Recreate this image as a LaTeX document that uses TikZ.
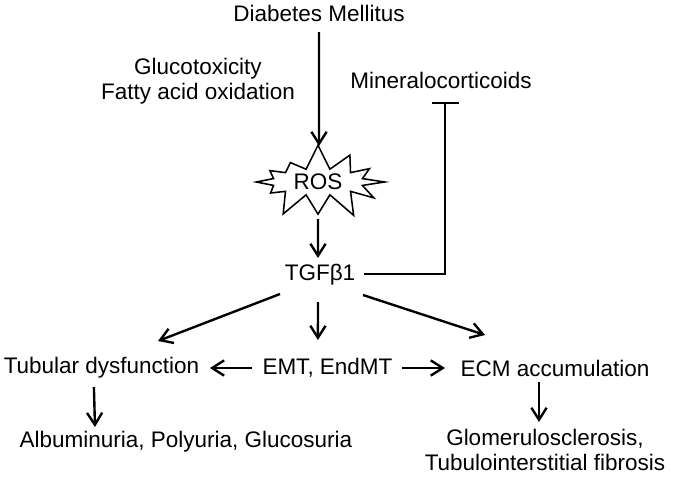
\documentclass[tikz,border=0pt]{standalone}
\usepackage{fontspec}
\setmainfont{Liberation Sans}
\usepackage{tikz}
\usetikzlibrary{shapes.symbols,arrows.meta}

\begin{document}
\begin{tikzpicture}[font=\fontsize{16}{17.8}\selectfont,
  arr/.style={-{Straight Barb[length=3mm,width=3.8mm]},line width=1.7pt},
  inh/.style={-{Bar[width=6.75mm]},line width=1.1pt}]

\useasboundingbox (0,0) rectangle (16.85,-11.975);

\node (dm) at (7.975,-0.325) {Diabetes Mellitus};
\node [align=center] (gluco) at (4.95,-2.0375) {Glucotoxicity\\Fatty acid oxidation};
\node (min) at (11.025,-2.0) {Mineralocorticoids};
\node [starburst,draw,line width=1.1pt,starburst points=12,starburst point height=0.65cm,random starburst=7,minimum width=3.6cm,minimum height=1.85cm,inner sep=1pt] (ros) at (7.95,-4.55) {ROS};
\node (tgf) at (8.0,-6.875) {TGFβ1};
\node (tub) at (2.5375,-9.2) {Tubular dysfunction};
\node (emt) at (8.1875,-9.2) {EMT, EndMT};
\node (ecm) at (13.875,-9.2) {ECM accumulation};
\node (alb) at (4.65,-11.05) {Albuminuria, Polyuria, Glucosuria};
\node [align=center] (glom) at (13.625,-11.25) {Glomerulosclerosis,\\Tubulointerstitial fibrosis};

\draw ([shift={(0,-0.475)}]dm.center) edge[arr] ([shift={(0.025,0.9)}]ros.center);
\draw ([shift={(0,-0.925)}]ros.center) edge[arr] ([shift={(-0.05,0.425)}]tgf.center);
\draw ([shift={(-1.0,-0.475)}]tgf.center) edge[arr] ([shift={(1.4125,0.675)}]tub.center);
\draw ([shift={(-0.05,-0.675)}]tgf.center) edge[arr] ([shift={(-0.24,0.7)}]emt.center);
\draw ([shift={(1.075,-0.5)}]tgf.center) edge[arr] ([shift={(-1.75,0.825)}]ecm.center);
\draw ([shift={(-1.89,0)}]emt.center) edge[arr] ([shift={(2.71,0)}]tub.center);
\draw ([shift={(1.86,0)}]emt.center) edge[arr] ([shift={(-2.75,0)}]ecm.center);
\draw ([shift={(-0.19,-0.475)}]tub.center) edge[arr] ([shift={(-2.275,0.375)}]alb.center);
\draw ([shift={(-0.4,-0.35)}]ecm.center) edge[arr] ([shift={(-0.15,0.7)}]glom.center);

\draw [inh] ([shift={(1.1,0.025)}]tgf.center) -| ([shift={(0.1,-0.55)}]min.center);

\end{tikzpicture}
\end{document}
